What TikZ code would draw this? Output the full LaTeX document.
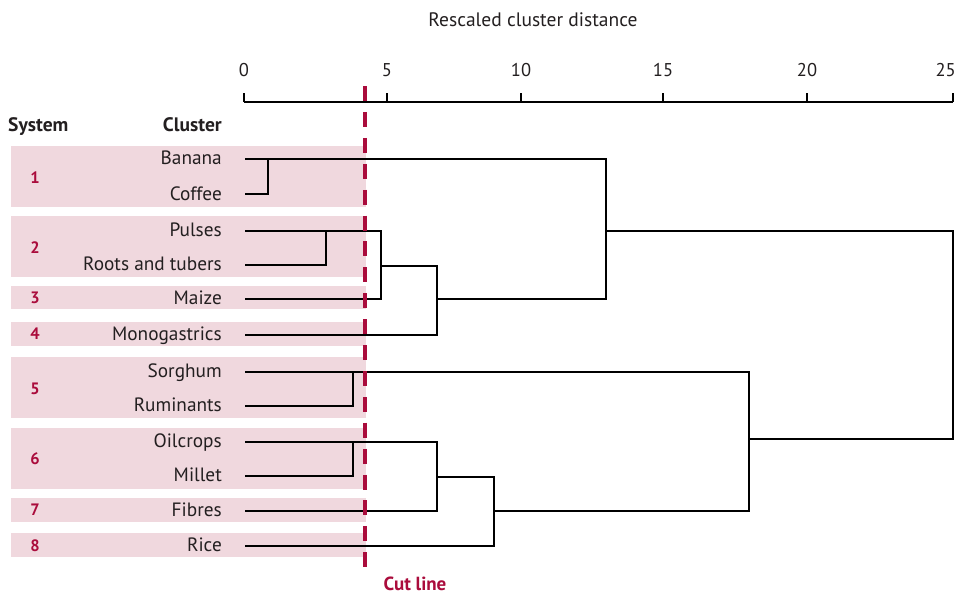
\documentclass[tikz,border=0pt]{standalone}
\usepackage{fontspec}
\setmainfont{PT Sans}
\definecolor{cutred}{RGB}{170,12,60}
\definecolor{pinkbg}{RGB}{240,216,222}
\definecolor{txt}{RGB}{35,31,32}
\begin{document}
\begin{tikzpicture}[x=1pt,y=-1pt,
  lab/.style={anchor=base east,inner sep=0pt,text=txt,font=\fontsize{19.3}{22}\selectfont},
  sysnum/.style={inner sep=0pt,text=cutred,font=\fontsize{16.5}{18}\selectfont\bfseries},
  tick/.style={anchor=base,inner sep=0pt,text=txt,font=\fontsize{18.5}{21}\selectfont},
  head/.style={anchor=base,inner sep=0pt,text=txt,font=\fontsize{19.5}{22}\selectfont\bfseries},
  tree/.style={line width=2.5pt,black,line join=miter},
  band/.style={fill=pinkbg}]
\useasboundingbox (0,0) rectangle (961,595);
% background bands
\fill[band] (11,146) rectangle (366,207);
\fill[band] (11,216) rectangle (366,277);
\fill[band] (11,286) rectangle (366,309);
\fill[band] (11,322) rectangle (366,346);
\fill[band] (11,357) rectangle (366,418);
\fill[band] (11,428) rectangle (366,489);
\fill[band] (11,498) rectangle (366,522);
\fill[band] (11,533) rectangle (366,557);
% title and axis
\node[tick,font=\fontsize{19.5}{22}\selectfont] (title) at (533,26) {Rescaled cluster distance};
\coordinate (a0) at (244,102);
\coordinate (a25) at (953,102);
\draw[line width=2.5pt] (a0) -- (a25);
\foreach \x/\v in {244/0,387/5,521/10,663/15,807/20,953/25}{
  \draw[line width=2.5pt] (\x,102) -- (\x,93);
}
\node[tick] (t0) at (244,76) {0};
\node[tick] (t5) at (387,76) {5};
\node[tick] (t10) at (521,76) {10};
\node[tick] (t15) at (663,76) {15};
\node[tick] (t20) at (807,76) {20};
\node[tick,anchor=base east] (t25) at (956,76) {25};
% headers
\node[head,anchor=base west] (hsys) at (8,131) {System};
\node[head,anchor=base east] (hclu) at (222,131) {Cluster};
% system numbers
\node[sysnum] (s1) at (35,177.5) {1};
\node[sysnum] (s2) at (35,247.5) {2};
\node[sysnum] (s3) at (35,298) {3};
\node[sysnum] (s4) at (35,334) {4};
\node[sysnum] (s5) at (35,388.5) {5};
\node[sysnum] (s6) at (35,459) {6};
\node[sysnum] (s7) at (35,510) {7};
\node[sysnum] (s8) at (35,546) {8};
% leaf labels
\node[lab] (banana) at (222,164.5) {Banana};
\node[lab] (coffee) at (222,200.5) {Coffee};
\node[lab] (pulses) at (222,236.5) {Pulses};
\node[lab] (roots) at (222,270.5) {Roots and tubers};
\node[lab] (maize) at (222,304.5) {Maize};
\node[lab] (mono) at (222,340.5) {Monogastrics};
\node[lab] (sorghum) at (222,377.5) {Sorghum};
\node[lab] (rumin) at (222,411.5) {Ruminants};
\node[lab] (oil) at (222,447.5) {Oilcrops};
\node[lab] (millet) at (222,481.5) {Millet};
\node[lab] (fibres) at (222,516.5) {Fibres};
\node[lab] (rice) at (222,551.5) {Rice};
% dendrogram
\draw[tree] (245,159) -- (606,159) -- (606,299) -- (437,299);
\draw[tree] (245,194) -- (268,194) -- (268,159);
\draw[tree] (245,231) -- (381,231) -- (381,299) -- (245,299);
\draw[tree] (245,265) -- (326,265) -- (326,231);
\draw[tree] (381,266) -- (437,266) -- (437,335) -- (245,335);
\draw[tree] (606,231) -- (953,231) -- (953,439) -- (749,439);
\draw[tree] (245,372) -- (749,372) -- (749,511) -- (494,511);
\draw[tree] (245,406) -- (353,406) -- (353,372);
\draw[tree] (245,442) -- (437,442) -- (437,511) -- (245,511);
\draw[tree] (245,476) -- (353,476) -- (353,442);
\draw[tree] (437,477) -- (494,477) -- (494,546) -- (245,546);
% cut line
\coordinate (cuttop) at (365,86);
\coordinate (cutbot) at (365,568);
\draw[cutred,line width=4.6pt,dash pattern=on 15pt off 10.9pt] (cuttop) -- (cutbot);
\node[anchor=base,inner sep=0pt,text=cutred,font=\fontsize{19}{22}\selectfont\bfseries] (cutlab) at (415,590) {Cut line};
\end{tikzpicture}
\end{document}
